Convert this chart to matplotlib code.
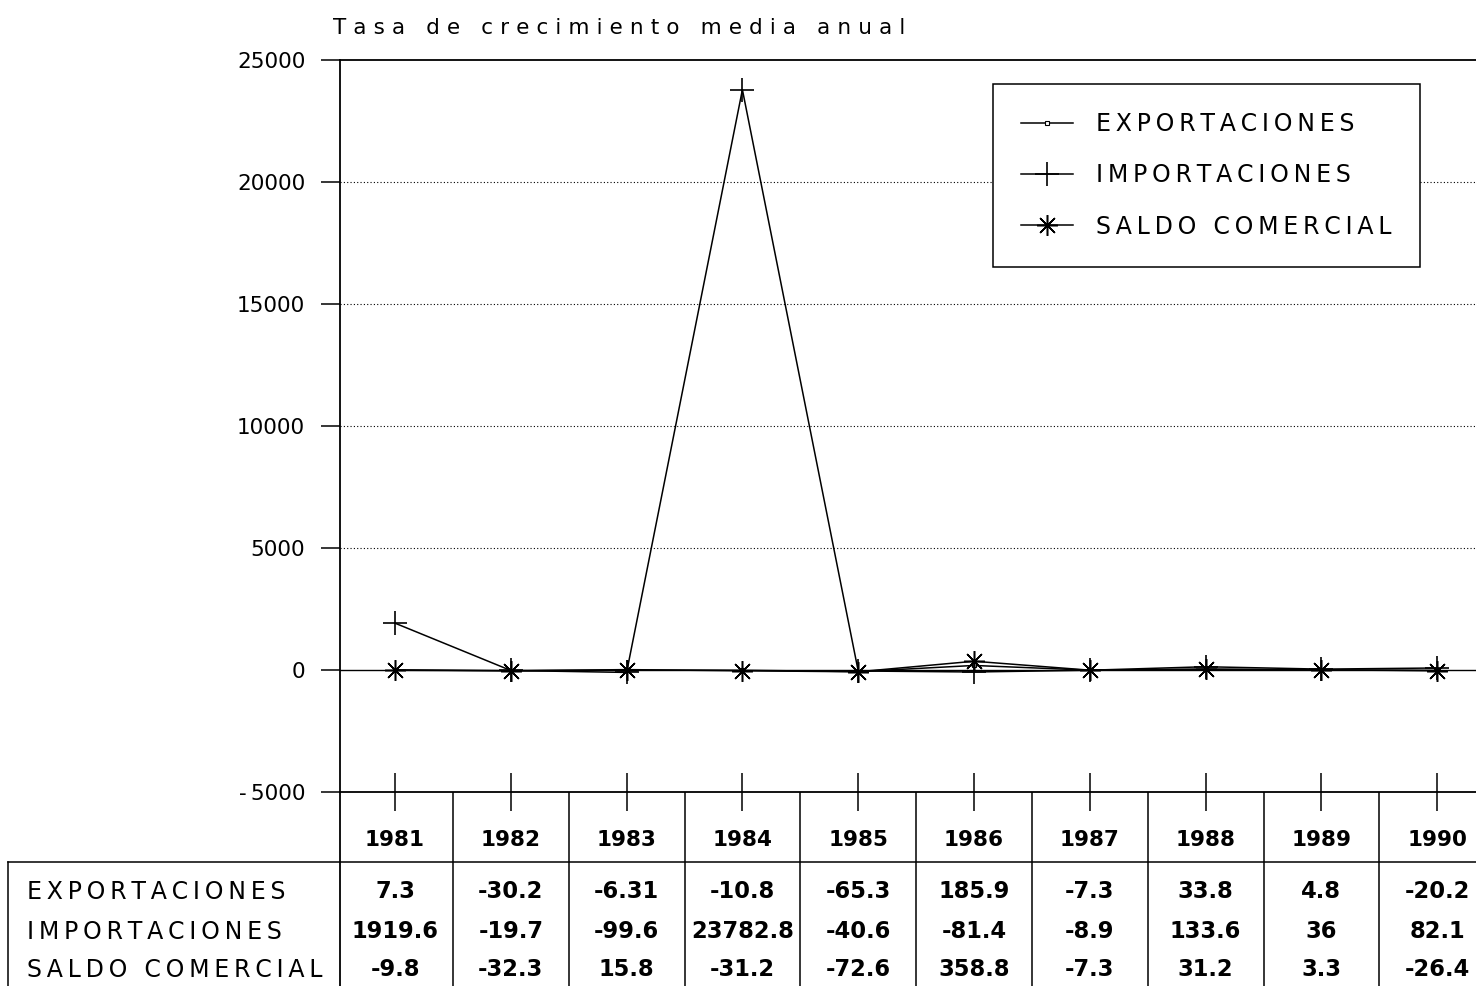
import matplotlib
matplotlib.use("Agg")
import matplotlib.pyplot as plt

# ---- data -------------------------------------------------------------
years = ["1981", "1982", "1983", "1984", "1985", "1986", "1987", "1988", "1989", "1990"]
exportaciones = [7.3, -30.2, -6.31, -10.8, -65.3, 185.9, -7.3, 33.8, 4.8, -20.2]
importaciones = [1919.6, -19.7, -99.6, 23782.8, -40.6, -81.4, -8.9, 133.6, 36, 82.1]
saldo_comercial = [-9.8, -32.3, 15.8, -31.2, -72.6, 358.8, -7.3, 31.2, 3.3, -26.4]
series_names = ["EXPORTACIONES", "IMPORTACIONES", "SALDO COMERCIAL"]
y_ticks = [-5000, 0, 5000, 10000, 15000, 20000, 25000]
title = "Tasa de crecimiento media anual"


def tracked(s, gap="\u2009"):
    """Widen letter spacing by inserting a narrow space between characters."""
    return gap.join(s)


FW, FH = 1476, 986
fig = plt.figure(figsize=(FW / 100, FH / 100), dpi=100)
fig.patch.set_facecolor("white")

# main plotting area
ax_l, ax_r, ax_t, ax_b = 340, 1476, 60, 792
ax = fig.add_axes([ax_l / FW, 1 - ax_b / FH, (ax_r - ax_l) / FW, (ax_b - ax_t) / FH])
x0, x1 = -0.475, 9.335
ax.set_xlim(x0, x1)
ax.set_ylim(-5000, 25000)

xs = list(range(len(years)))
lw = 1.1
ax.plot(xs, exportaciones, color="black", lw=lw, marker="s", ms=3,
        mfc="white", mec="black", mew=0.8, label=tracked(series_names[0]), zorder=4)
ax.plot(xs, importaciones, color="black", lw=lw, marker="+", ms=17,
        mew=1.2, label=tracked(series_names[1]), zorder=4)
ax.plot(xs, saldo_comercial, color="black", lw=lw, marker=(8, 2, 0), ms=15,
        mew=1.1, label=tracked(series_names[2]), zorder=5)

# grid: dotted reference lines, solid zero line
for v in y_ticks:
    if v in (-5000, 25000):
        continue
    if v == 0:
        ax.axhline(v, color="black", lw=1.0, zorder=2)
    else:
        ax.axhline(v, color="black", lw=0.8, ls=(0, (1, 2)), zorder=1)

ax.spines["right"].set_visible(False)
for side in ("left", "top", "bottom"):
    ax.spines[side].set_linewidth(1.3)

ax.set_yticks(y_ticks)
ax.set_yticklabels([f"{v}" if v >= 0 else f"-\u2009{abs(v)}" for v in y_ticks],
                   fontsize=15.5)
ax.tick_params(axis="y", direction="out", length=14, width=1.1, pad=11)
ax.set_xticks(xs)
ax.set_xticklabels([])
ax.tick_params(axis="x", direction="inout", length=27, width=1.1)

leg = ax.legend(loc="upper left", bbox_to_anchor=(993 / FW, 1 - 84 / FH),
                bbox_transform=fig.transFigure, fontsize=17, frameon=True,
                fancybox=False, framealpha=1, edgecolor="black",
                handlelength=2.2, handletextpad=0.95, labelspacing=1.15,
                borderpad=1.2, borderaxespad=0)
leg.get_frame().set_linewidth(1.1)

fig.text(333 / FW, 1 - 28 / FH, tracked(title, "\u2004"), fontsize=15.5,
         ha="left", va="center")

# ---- table below the plot ----------------------------------------------
tax = fig.add_axes([0, 0, 1, (FH - ax_b) / FH])
L = ax_l / FW
W = (ax_r - ax_l) / FW
tx0 = x0 - L / W * (x1 - x0)
tax.set_xlim(tx0, x1)
tax.set_ylim(FH, ax_b)
tax.axis("off")


def px_to_x(px):
    return tx0 + px / FW * (x1 - tx0)


left_x = px_to_x(8)
header_y = 862
tc = dict(color="black", lw=1.1)
tax.plot([left_x, x1], [header_y, header_y], **tc)
tax.plot([left_x, left_x], [header_y, FH], **tc)
tax.plot([x0, x0], [ax_b, FH], color="black", lw=1.3)
for i in xs:
    tax.plot([i + 0.5, i + 0.5], [ax_b, FH], **tc)

for i, yr in enumerate(years):
    tax.text(i, 840, yr, ha="center", va="center", fontsize=15.5, fontweight="bold")

row_y = [892, 932, 970]
for name, vals, yy in zip(series_names, [exportaciones, importaciones, saldo_comercial], row_y):
    tax.text(px_to_x(27), yy, tracked(name), ha="left", va="center", fontsize=17)
    for i, v in enumerate(vals):
        tax.text(i, yy, f"{v:g}", ha="center", va="center", fontsize=16.3,
                 fontweight="bold")

fig.savefig("out.png", dpi=100, facecolor="white")
